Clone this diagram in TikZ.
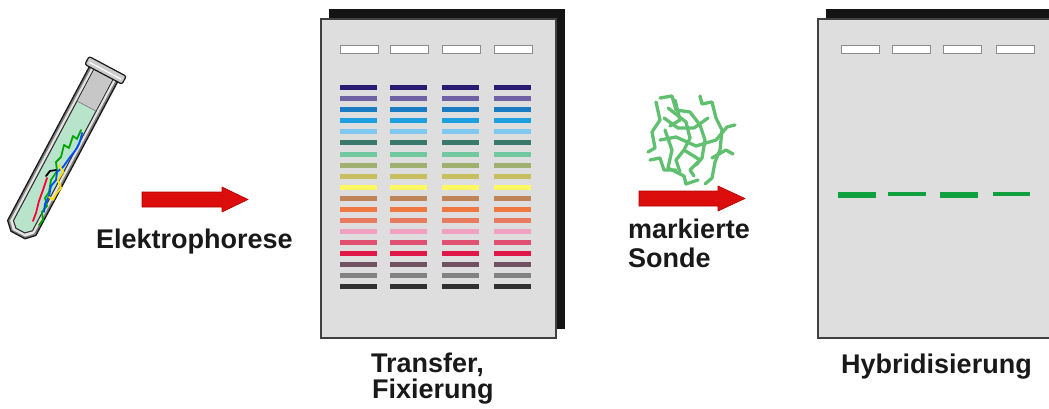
\documentclass[tikz,border=0pt]{standalone}
\usepackage{fontspec}
\setmainfont{Liberation Sans}
\begin{document}
\begin{tikzpicture}[x=1pt,y=-1pt,
  label/.style={font=\fontsize{27}{30}\selectfont\bfseries, text=black!90, inner sep=0pt, anchor=base west},
  sheet/.style={fill=black!13, draw=black!75, line width=1.4pt},
  backsheet/.style={fill=black!92},
  well/.style={fill=white, draw=black!45, line width=0.9pt},
  redarrow/.style={fill=red!85!black!95, draw=red!70!black, line width=0.6pt, line join=miter},
  strand/.style={line width=1.8pt, line join=round, line cap=round},
  probe/.style={draw=probegreen, line width=3.3pt, line join=round, line cap=round}]

\definecolor{probegreen}{HTML}{60C070}
\definecolor{hybgreen}{HTML}{10A040}
\definecolor{liquid}{HTML}{B8E4CC}
\definecolor{b1}{HTML}{2A1A72}
\definecolor{b2}{HTML}{7060A4}
\definecolor{b3}{HTML}{1A7AC2}
\definecolor{b4}{HTML}{1EA0E0}
\definecolor{b5}{HTML}{80C8F0}
\definecolor{b6}{HTML}{3A7A6C}
\definecolor{b7}{HTML}{72C8A0}
\definecolor{b8}{HTML}{A0B070}
\definecolor{b9}{HTML}{C8C060}
\definecolor{b10}{HTML}{FFF860}
\definecolor{b11}{HTML}{C08458}
\definecolor{b12}{HTML}{F07840}
\definecolor{b13}{HTML}{E87A60}
\definecolor{b14}{HTML}{F0A0C0}
\definecolor{b15}{HTML}{E05070}
\definecolor{b16}{HTML}{E01848}
\definecolor{b17}{HTML}{705262}
\definecolor{b18}{HTML}{828282}
\definecolor{b19}{HTML}{303030}

\useasboundingbox (0,0) rectangle (1049,409);
\clip (0,0) rectangle (1049,409);

% ---------- test tube ----------
\begin{scope}[shift={(18,235)}, rotate=62]
  \path[fill=black!50, draw=black!90, line width=1.3pt]
    (0,-8) -- (8,-16) -- (184,-16) -- (184,16) -- (8,16) -- (0,8) -- cycle;
  \path[fill=black!10]
    (2,-7) -- (8.8,-13.6) -- (184,-13.6) -- (184,13.6) -- (8.8,13.6) -- (2,7) -- cycle;
  \draw[white, line width=2pt] (5,4) -- (10,10.2) -- (182,10.2);
  \path[fill=liquid, draw=black!80, line width=1.1pt]
    (5,-5) -- (10.5,-10.8) -- (184,-10.8) -- (184,10.8) -- (10.5,10.8) -- (5,5) -- cycle;
  \path[fill=black!22] (146,-10.2) rectangle (183.5,10.2);
  \draw[black!55, line width=0.6pt] (146,-10.2) -- (146,10.2);
  \path[fill=black!20, draw=black!90, line width=1.2pt, rounded corners=2pt]
    (182,-21) rectangle (191,21);
  \draw[white, line width=1.2pt] (186,-18) -- (186,18);
\end{scope}
% DNA strands inside the tube
\draw[strand, green!65!black] (81,130) -- (77,139) -- (73,136) -- (69,148) -- (64,145) -- (61,157) -- (56,162) -- (57,171) -- (51,180) -- (49,192) -- (45,198) -- (47,206) -- (42,212) -- (43,220) -- (39,225);
\draw[strand, blue!70!cyan] (82,133) .. controls (79,150) and (73,152) .. (68,160) -- (63,167) -- (57,172) -- (56,180) -- (51,186) -- (49,196) -- (45,204) -- (44,212);
\draw[strand, red!80!magenta] (47,178) -- (43,190) -- (39,201) -- (36,213) -- (33,221);
\draw[strand, black] (46,176) -- (50,171) -- (56,170);
\draw[strand, yellow!85!orange] (59,165) -- (63,172) -- (58,180) -- (61,188) -- (56,194) -- (53,200) -- (49,197);

% ---------- arrows ----------
\path[redarrow] (142,192) -- (222,192) -- (222,187) -- (248,199.5) -- (222,212) -- (222,207) -- (142,207) -- cycle;
\path[redarrow] (639,191) -- (718,191) -- (718,186) -- (745,198.5) -- (718,211) -- (718,206) -- (639,206) -- cycle;

% ---------- blot with separated bands ----------
\fill[backsheet] (329,9) rectangle (565,329);
\path[sheet] (321,19) rectangle (556,338);
\foreach \x in {340,390,442,494} {
  \path[well] (\x,45) rectangle ++(38,8);
  \foreach \k in {1,...,19} {
    \fill[b\k] (\x,{88+11*(\k-1)-2.5}) rectangle ++(37,5);
  }
}

% ---------- blot after hybridisation ----------
\fill[backsheet] (826,9) rectangle (1060,329);
\path[sheet] (818,19) rectangle (1060,338);
\foreach \x in {841,892,943,996} {
  \path[well] (\x,45) rectangle ++(38,8);
}
\fill[hybgreen] (838,192) rectangle (876,197.5);
\fill[hybgreen] (888,192) rectangle (926,195.5);
\fill[hybgreen] (940,192) rectangle (978,197.5);
\fill[hybgreen] (993,192) rectangle (1030,195.5);

% ---------- labelled probe ----------
\draw[probe] (656,102) -- (660,120) -- (652,132) -- (655,148) -- (648,152);
\draw[probe] (660,98) -- (672,96) -- (676,110) -- (690,112) -- (700,125) -- (705,140) -- (702,158) -- (696,165);
\draw[probe] (700,96) -- (702,104) -- (712,102) -- (716,118) -- (722,130) -- (720,150) -- (715,162) -- (712,178) -- (705,184);
\draw[probe] (668,108) -- (686,122) -- (690,138) -- (684,150) -- (676,160) -- (680,172);
\draw[probe] (665,130) -- (672,150) -- (668,168) -- (684,176) -- (686,184) -- (698,180);
\draw[probe] (660,140) -- (676,137) -- (696,146) -- (716,140) -- (727,127) -- (735,125);
\draw[probe] (675,100) -- (680,120) -- (670,126);
\draw[probe] (712,158) -- (726,150) -- (733,154);
\draw[probe] (664,118) -- (678,128) -- (694,128) -- (708,118);
\draw[probe] (684,150) -- (700,160) -- (690,170) -- (694,176);
\draw[probe] (650,160) -- (660,158) -- (664,170) -- (676,170);

% ---------- labels ----------
\node[label] (elektro) at (96,248) {Elektrophorese};
\node[label] (mark) at (628,238) {markierte};
\node[label] (sonde) at (628,267) {Sonde};
\node[label] (transfer) at (371,372) {Transfer,};
\node[label] (fix) at (372,398) {Fixierung};
\node[label] (hyb) at (841,373) {Hybridisierung};
\end{tikzpicture}
\end{document}
